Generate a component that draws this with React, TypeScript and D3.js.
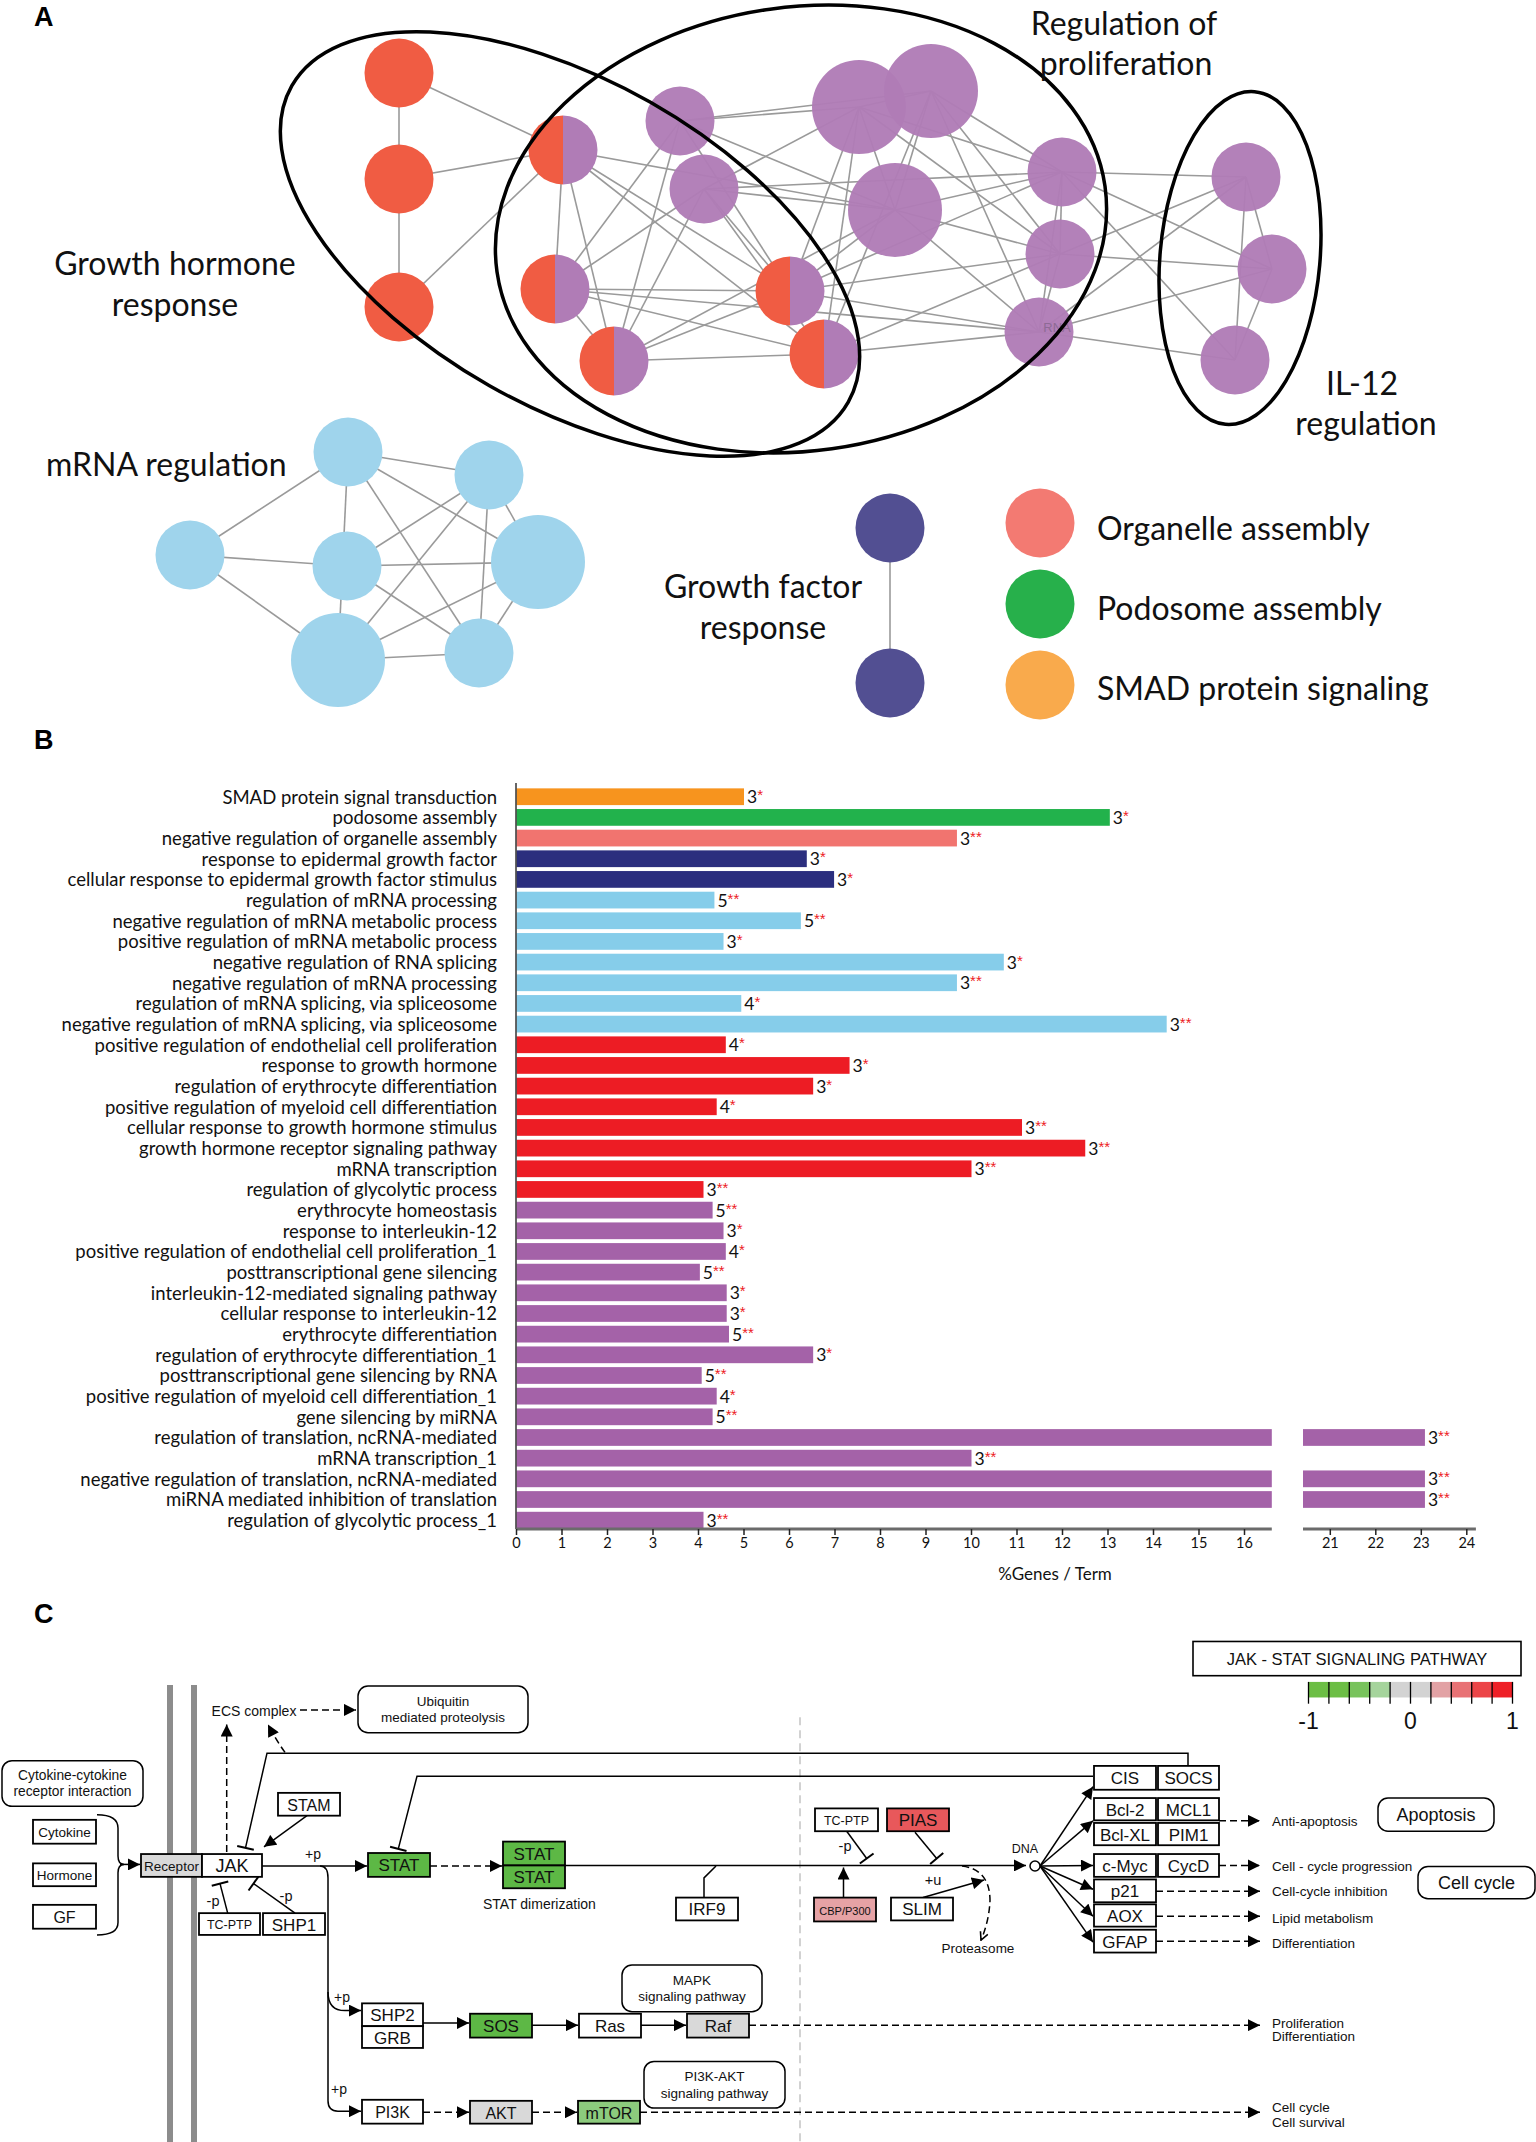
import React from 'react';
import * as d3 from 'd3';

// ---------------- Panel B data ----------------
const goTerms = [
  'SMAD protein signal transduction',
  'podosome assembly',
  'negative regulation of organelle assembly',
  'response to epidermal growth factor',
  'cellular response to epidermal growth factor stimulus',
  'regulation of mRNA processing',
  'negative regulation of mRNA metabolic process',
  'positive regulation of mRNA metabolic process',
  'negative regulation of RNA splicing',
  'negative regulation of mRNA processing',
  'regulation of mRNA splicing, via spliceosome',
  'negative regulation of mRNA splicing, via spliceosome',
  'positive regulation of endothelial cell proliferation',
  'response to growth hormone',
  'regulation of erythrocyte differentiation',
  'positive regulation of myeloid cell differentiation',
  'cellular response to growth hormone stimulus',
  'growth hormone receptor signaling pathway',
  'mRNA transcription',
  'regulation of glycolytic process',
  'erythrocyte homeostasis',
  'response to interleukin-12',
  'positive regulation of endothelial cell proliferation_1',
  'posttranscriptional gene silencing',
  'interleukin-12-mediated signaling pathway',
  'cellular response to interleukin-12',
  'erythrocyte differentiation',
  'regulation of erythrocyte differentiation_1',
  'posttranscriptional gene silencing by RNA',
  'positive regulation of myeloid cell differentiation_1',
  'gene silencing by miRNA',
  'regulation of translation, ncRNA-mediated',
  'mRNA transcription_1',
  'negative regulation of translation, ncRNA-mediated',
  'miRNA mediated inhibition of translation',
  'regulation of glycolytic process_1',
];
const goPercent = [
  5.0, 13.04, 9.68, 6.38, 6.98, 4.35, 6.25, 4.55, 10.71, 9.68, 4.94, 14.29,
  4.6, 7.32, 6.52, 4.4, 11.11, 12.5, 10.0, 4.11, 4.31, 4.55, 4.6, 4.03, 4.62,
  4.62, 4.67, 6.52, 4.07, 4.4, 4.31, 23.08, 10.0, 23.08, 23.08, 4.11,
];
const goGenes = [
  3, 3, 3, 3, 3, 5, 5, 3, 3, 3, 4, 3, 4, 3, 3, 4, 3, 3, 3, 3, 5, 3, 4, 5, 3, 3,
  5, 3, 5, 4, 5, 3, 3, 3, 3, 3,
];
const goStars = [
  '*', '*', '**', '*', '*', '**', '**', '*', '*', '**', '*', '**', '*', '*', '*',
  '*', '**', '**', '**', '**', '**', '*', '*', '**', '*', '*', '**', '*', '**',
  '*', '**', '**', '**', '**', '**', '**',
];
const goCluster = [
  'smad', 'podosome', 'organelle', 'egf', 'egf',
  'mrna', 'mrna', 'mrna', 'mrna', 'mrna', 'mrna', 'mrna',
  'gh', 'gh', 'gh', 'gh', 'gh', 'gh', 'gh', 'gh',
  'prolif', 'prolif', 'prolif', 'prolif', 'prolif', 'prolif', 'prolif', 'prolif',
  'prolif', 'prolif', 'prolif', 'prolif', 'prolif', 'prolif', 'prolif', 'prolif',
];
const barColors: Record<string, string> = {
  smad: '#F7941E',
  podosome: '#22B24C',
  organelle: '#F1746F',
  egf: '#2B2E7E',
  mrna: '#86CDEA',
  gh: '#ED1C24',
  prolif: '#A462A8',
};
const ticksLeft = d3.range(0, 17);
const ticksRight = [21, 22, 23, 24];

// ---------------- Panel A network ----------------
const ghNodes = [
  { id: 'g1', x: 399, y: 73 },
  { id: 'g2', x: 399, y: 179 },
  { id: 'g3', x: 399, y: 307 },
];
const mixNodes = [
  { id: 'h1', x: 563, y: 150 },
  { id: 'h2', x: 555, y: 289 },
  { id: 'h3', x: 614, y: 361 },
  { id: 'h4', x: 790, y: 291 },
  { id: 'h5', x: 824, y: 354 },
];
const prolifNodes = [
  { id: 'p1', x: 680, y: 121, big: false },
  { id: 'p2', x: 704, y: 189, big: false },
  { id: 'p3', x: 859, y: 107, big: true },
  { id: 'p4', x: 931, y: 91, big: true },
  { id: 'p5', x: 895, y: 210, big: true },
  { id: 'p6', x: 1062, y: 172, big: false },
  { id: 'p7', x: 1060, y: 254, big: false },
  { id: 'p8', x: 1039, y: 332, big: false },
  { id: 'i1', x: 1246, y: 177, big: false },
  { id: 'i2', x: 1272, y: 269, big: false },
  { id: 'i3', x: 1235, y: 360, big: false },
];
const mrnaNodes = [
  { id: 'm1', x: 348, y: 452, big: false },
  { id: 'm2', x: 489, y: 475, big: false },
  { id: 'm3', x: 190, y: 555, big: false },
  { id: 'm4', x: 347, y: 566, big: false },
  { id: 'm5', x: 538, y: 562, big: true },
  { id: 'm6', x: 338, y: 660, big: true },
  { id: 'm7', x: 479, y: 653, big: false },
];
const gfNodes = [
  { id: 'n1', x: 890, y: 528 },
  { id: 'n2', x: 890, y: 683 },
];
const netEdges: [string, string][] = [
  ['g1', 'g2'], ['g2', 'g3'], ['g1', 'h1'], ['g2', 'h1'], ['g3', 'h1'],
  ['h1', 'h2'], ['h1', 'h3'], ['h1', 'h4'], ['h1', 'h5'], ['h1', 'p5'],
  ['h2', 'h3'], ['h2', 'h4'], ['h2', 'h5'], ['h2', 'p1'], ['h2', 'p2'], ['h2', 'p8'],
  ['h3', 'p1'], ['h3', 'p2'], ['h3', 'h4'], ['h3', 'h5'], ['h3', 'p5'],
  ['p1', 'p3'], ['p1', 'p4'], ['p1', 'p5'], ['p1', 'h4'],
  ['p2', 'p3'], ['p2', 'p5'], ['p2', 'h4'], ['p2', 'h5'], ['p2', 'p6'],
  ['p3', 'p4'], ['p3', 'p5'], ['p3', 'p6'], ['p3', 'h4'], ['p3', 'h5'], ['p3', 'p7'],
  ['p4', 'p5'], ['p4', 'p6'], ['p4', 'p7'], ['p4', 'p8'], ['p4', 'h5'],
  ['p5', 'p6'], ['p5', 'p7'], ['p5', 'p8'], ['p5', 'h4'],
  ['p6', 'p7'], ['p6', 'p8'], ['p6', 'h4'],
  ['p7', 'p8'], ['p7', 'h4'], ['p7', 'h5'],
  ['p8', 'h4'], ['p8', 'h5'],
  ['p6', 'i1'], ['p6', 'i2'], ['p6', 'i3'], ['p7', 'i1'], ['p7', 'i2'],
  ['p8', 'i1'], ['p8', 'i2'], ['p8', 'i3'],
  ['i1', 'i2'], ['i1', 'i3'], ['i2', 'i3'],
  ['m1', 'm2'], ['m1', 'm3'], ['m1', 'm6'], ['m1', 'm5'], ['m1', 'm7'],
  ['m2', 'm4'], ['m2', 'm6'], ['m2', 'm5'], ['m2', 'm7'],
  ['m3', 'm4'], ['m3', 'm6'], ['m4', 'm5'], ['m4', 'm7'],
  ['m5', 'm6'], ['m5', 'm7'], ['m6', 'm7'],
  ['n1', 'n2'],
];
const legendLabels = ['Organelle assembly', 'Podosome assembly', 'SMAD protein signaling'];
const legendColors = ['#F37A72', '#27B04B', '#F9AA4C'];

// ---------------- Panel C pathway ----------------
const GREEN = '#5DB845';
const GRAY = '#D9D9D9';
const pathwayBoxes = [
  { label: 'Cytokine', x: 33, y: 1812, w: 63, h: 23, fill: '#fff', fs: 13.5 },
  { label: 'Hormone', x: 33, y: 1854, w: 63, h: 22, fill: '#fff', fs: 13.5 },
  { label: 'GF', x: 33, y: 1894, w: 63, h: 23, fill: '#fff', fs: 16 },
  { label: 'Receptor', x: 141, y: 1845, w: 61, h: 22, fill: GRAY, fs: 13.5 },
  { label: 'JAK', x: 202, y: 1845, w: 60, h: 22, fill: '#fff', fs: 18 },
  { label: 'STAM', x: 278, y: 1786, w: 62, h: 22, fill: '#fff', fs: 16 },
  { label: 'TC-PTP', x: 199, y: 1902, w: 61, h: 21, fill: '#fff', fs: 12.5 },
  { label: 'SHP1', x: 263, y: 1902, w: 62, h: 21, fill: '#fff', fs: 17 },
  { label: 'STAT', x: 368, y: 1844, w: 62, h: 23, fill: GREEN, fs: 17 },
  { label: 'STAT', x: 503, y: 1833, w: 62, h: 23, fill: GREEN, fs: 17 },
  { label: 'STAT', x: 503, y: 1856, w: 62, h: 22, fill: GREEN, fs: 17 },
  { label: 'IRF9', x: 676, y: 1887, w: 62, h: 22, fill: '#fff', fs: 17 },
  { label: 'TC-PTP', x: 815, y: 1801, w: 63, h: 22, fill: '#fff', fs: 12.5 },
  { label: 'PIAS', x: 887, y: 1801, w: 62, h: 22, fill: '#E8585B', fs: 17 },
  { label: 'CBP/P300', x: 814, y: 1887, w: 62, h: 23, fill: '#E6A2A5', fs: 11 },
  { label: 'SLIM', x: 891, y: 1887, w: 62, h: 22, fill: '#fff', fs: 17 },
  { label: 'SHP2', x: 362, y: 1989, w: 61, h: 22, fill: '#fff', fs: 17 },
  { label: 'GRB', x: 362, y: 2011, w: 61, h: 21, fill: '#fff', fs: 17 },
  { label: 'SOS', x: 470, y: 1999, w: 62, h: 23, fill: GREEN, fs: 17 },
  { label: 'Ras', x: 579, y: 1999, w: 62, h: 23, fill: '#fff', fs: 17 },
  { label: 'Raf', x: 687, y: 1999, w: 62, h: 23, fill: GRAY, fs: 17 },
  { label: 'PI3K', x: 362, y: 2082, w: 61, h: 23, fill: '#fff', fs: 16 },
  { label: 'AKT', x: 470, y: 2083, w: 62, h: 22, fill: GRAY, fs: 16 },
  { label: 'mTOR', x: 578, y: 2083, w: 62, h: 22, fill: '#8CCB7D', fs: 16 },
  { label: 'CIS', x: 1094, y: 1760, w: 62, h: 23, fill: '#fff', fs: 17 },
  { label: 'SOCS', x: 1158, y: 1760, w: 61, h: 23, fill: '#fff', fs: 17 },
  { label: 'Bcl-2', x: 1094, y: 1791, w: 62, h: 21.5, fill: '#fff', fs: 17 },
  { label: 'MCL1', x: 1158, y: 1791, w: 61, h: 21.5, fill: '#fff', fs: 17 },
  { label: 'Bcl-XL', x: 1094, y: 1815, w: 62, h: 21.5, fill: '#fff', fs: 17 },
  { label: 'PIM1', x: 1158, y: 1815, w: 61, h: 21.5, fill: '#fff', fs: 17 },
  { label: 'c-Myc', x: 1094, y: 1845, w: 62, h: 22, fill: '#fff', fs: 17 },
  { label: 'CycD', x: 1158, y: 1845, w: 61, h: 22, fill: '#fff', fs: 17 },
  { label: 'p21', x: 1094, y: 1869.5, w: 62, h: 22, fill: '#fff', fs: 17 },
  { label: 'AOX', x: 1094, y: 1893.5, w: 62, h: 21.5, fill: '#fff', fs: 17 },
  { label: 'GFAP', x: 1094, y: 1918, w: 62, h: 22, fill: '#fff', fs: 17 },
];
const roundBoxes = [
  { lines: ['Cytokine-cytokine', 'receptor interaction'], x: 2, y: 1755, w: 141, h: 44, fs: 13.8 },
  { lines: ['Ubiquitin', 'mediated proteolysis'], x: 358, y: 1683, w: 170, h: 45, fs: 13.5 },
  { lines: ['MAPK', 'signaling pathway'], x: 622, y: 1952, w: 140, h: 45, fs: 13.5 },
  { lines: ['PI3K-AKT', 'signaling pathway'], x: 644, y: 2045, w: 141, h: 45, fs: 13.5 },
  { lines: ['Apoptosis'], x: 1378, y: 1791, w: 116, h: 32, fs: 18 },
  { lines: ['Cell cycle'], x: 1418, y: 1857, w: 117, h: 31, fs: 18 },
];
const outcomeTexts = [
  { t: 'Anti-apoptosis', y: 1814 },
  { t: 'Cell - cycle progression', y: 1857 },
  { t: 'Cell-cycle inhibition', y: 1881 },
  { t: 'Lipid metabolism', y: 1907 },
  { t: 'Differentiation', y: 1931 },
  { t: 'Proliferation', y: 2008 },
  { t: 'Differentiation', y: 2021 },
  { t: 'Cell cycle', y: 2089 },
  { t: 'Cell survival', y: 2104 },
];
const scaleColors = [
  '#6CBE45', '#6CBE45', '#78C35C', '#A5D49C', '#D3D3D3',
  '#D3D3D3', '#E2A2A5', '#E87275', '#EC4548', '#EE2027',
];
const scaleTicks = [-1, 0, 1];

const LATO = 'Lato, "Open Sans", sans-serif';
const ARIAL = '"Liberation Sans", Arial, sans-serif';

function PanelA() {
  const all: Record<string, { x: number; y: number }> = {};
  [...ghNodes, ...mixNodes, ...prolifNodes, ...mrnaNodes, ...gfNodes].forEach((n) => (all[n.id] = n));
  const rSmall = 34.5;
  const rBig = 47;
  const arc = d3.arc<any>();
  const rightHalf = arc({ innerRadius: 0, outerRadius: rSmall, startAngle: 0, endAngle: Math.PI }) as string;
  const leftHalf = arc({ innerRadius: 0, outerRadius: rSmall, startAngle: Math.PI, endAngle: 2 * Math.PI }) as string;
  const txt = { fontFamily: LATO, fontSize: 32, fill: '#111' } as const;
  return (
    <g>
      <text x={34} y={26} fontFamily={ARIAL} fontWeight="bold" fontSize={27}>A</text>
      <g stroke="#9a9a9a" strokeWidth={1.6}>
        {netEdges.map(([a, b], i) => (
          <line key={i} x1={all[a].x} y1={all[a].y} x2={all[b].x} y2={all[b].y} />
        ))}
      </g>
      {ghNodes.map((n) => (
        <circle key={n.id} cx={n.x} cy={n.y} r={rSmall} fill="#F05C43" />
      ))}
      {mixNodes.map((n) => (
        <g key={n.id} transform={`translate(${n.x},${n.y})`}>
          <path d={leftHalf} fill="#F05C43" />
          <path d={rightHalf} fill="#B07CB6" />
        </g>
      ))}
      {prolifNodes.map((n) => (
        <circle key={n.id} cx={n.x} cy={n.y} r={n.big ? rBig : rSmall} fill="#B07CB6" fillOpacity={0.96} />
      ))}
      <text x={1057} y={327} textAnchor="middle" dominantBaseline="central" fontFamily={ARIAL} fontSize={13} fill="#8e6a95">RNA</text>
      {mrnaNodes.map((n) => (
        <circle key={n.id} cx={n.x} cy={n.y} r={n.big ? rBig : rSmall} fill="#9FD4EC" />
      ))}
      {gfNodes.map((n) => (
        <circle key={n.id} cx={n.x} cy={n.y} r={rSmall} fill="#524F92" />
      ))}
      <g fill="none" stroke="#000" strokeWidth={3.5}>
        <ellipse cx={570} cy={244} rx={320} ry={163} transform="rotate(29.6 570 244)" />
        <ellipse cx={801} cy={229} rx={307} ry={222} transform="rotate(-8 801 229)" />
        <ellipse cx={1240} cy={258} rx={80} ry={167} transform="rotate(5 1240 258)" />
      </g>
      <g {...txt} textAnchor="middle" dominantBaseline="central">
        <text x={175} y={262}>Growth hormone</text>
        <text x={175} y={303}>response</text>
        <text x={1124} y={22}>Regulation of</text>
        <text x={1126} y={62}>proliferation</text>
        <text x={1362} y={382}>IL-12</text>
        <text x={1366} y={422}>regulation</text>
        <text x={763} y={585}>Growth factor</text>
        <text x={763} y={626}>response</text>
      </g>
      <text {...txt} x={46} y={463} dominantBaseline="central">mRNA regulation</text>
      {legendLabels.map((l, i) => (
        <g key={l}>
          <circle cx={1040} cy={523 + i * 81} r={rSmall} fill={legendColors[i]} />
          <text {...txt} x={1097} y={527 + i * 80} dominantBaseline="central">{l}</text>
        </g>
      ))}
    </g>
  );
}

function PanelB() {
  const y = d3.scaleBand<string>().domain(goTerms).range([786.4, 1530.5]).paddingInner(0.19).paddingOuter(0.095);
  const xL = d3.scaleLinear().domain([0, 16.6]).range([516.5, 1271.8]);
  const xR = d3.scaleLinear().domain([20.4, 24.2]).range([1303, 1475.9]);
  const axisY = 1529;
  const bw = y.bandwidth();
  return (
    <g>
      <text x={34} y={749} fontFamily={ARIAL} fontWeight="bold" fontSize={27}>B</text>
      {goTerms.map((t, i) => {
        const v = goPercent[i];
        const yy = y(t)!;
        const c = barColors[goCluster[i]];
        const broken = v > 16.6;
        const endX = broken ? xR(v) : xL(v);
        return (
          <g key={t}>
            <text x={497} y={yy + bw / 2} dominantBaseline="central" textAnchor="end" fontFamily={LATO} fontSize={18.5} fill="#111">{t}</text>
            <rect x={xL(0)} y={yy} width={(broken ? xL(16.6) : xL(v)) - xL(0)} height={bw} fill={c} />
            {broken && <rect x={xR(20.4)} y={yy} width={xR(v) - xR(20.4)} height={bw} fill={c} />}
            <text x={endX + 3} y={yy + bw / 2 + 6.5} fontFamily={LATO} fontSize={17.5} fill="#111">
              {goGenes[i]}
              <tspan dy={-3} fontFamily={ARIAL} fontSize={15} fill="#ED1C24">{goStars[i]}</tspan>
            </text>
          </g>
        );
      })}
      <line x1={516} x2={516} y1={783} y2={axisY} stroke="#333" strokeWidth={1.5} />
      <g stroke="#6b6b6b" strokeWidth={3}>
        <line x1={xL(0)} x2={xL(16.6)} y1={axisY} y2={axisY} />
        <line x1={xR(20.4)} x2={xR(24.2)} y1={axisY} y2={axisY} />
      </g>
      {ticksLeft.map((t) => (
        <g key={'l' + t}>
          <line x1={xL(t)} x2={xL(t)} y1={axisY} y2={axisY + 6} stroke="#222" strokeWidth={1.5} />
          <text x={xL(t)} y={axisY + 19} textAnchor="middle" fontFamily={LATO} fontSize={14.5} fill="#111">{t}</text>
        </g>
      ))}
      {ticksRight.map((t) => (
        <g key={'r' + t}>
          <line x1={xR(t)} x2={xR(t)} y1={axisY} y2={axisY + 6} stroke="#222" strokeWidth={1.5} />
          <text x={xR(t)} y={axisY + 19} textAnchor="middle" fontFamily={LATO} fontSize={14.5} fill="#111">{t}</text>
        </g>
      ))}
      <text x={1055} y={1573} textAnchor="middle" dominantBaseline="central" fontFamily={LATO} fontSize={17} fill="#111">%Genes / Term</text>
    </g>
  );
}

function tBar(x1: number, y1: number, x2: number, y2: number, len = 17) {
  const dx = x2 - x1;
  const dy = y2 - y1;
  const L = Math.hypot(dx, dy);
  const px = (-dy / L) * (len / 2);
  const py = (dx / L) * (len / 2);
  return { x1: x2 - px, y1: y2 - py, x2: x2 + px, y2: y2 + py };
}

// the pathway layout was measured on a slightly squashed grid; this maps it back
const yC = d3.scaleLinear().domain([1600, 2142]).range([1600, 2162]);
const kC = 562 / 542;

function PanelC() {
  const solidArrows = [
    [120, 1855, 140, 1855],
    [307, 1808, 264, 1838],
    [262, 1856.5, 367, 1856.5],
    [423, 2008, 469, 2008],
    [532, 2010, 578, 2010],
    [641, 2010, 686, 2010],
    [565, 1856, 1026, 1856],
    [843.5, 1887, 843.5, 1858],
    [923, 1887, 984, 1870],
    [1040, 1856.5, 1093, 1780],
    [1040, 1856.5, 1093, 1813],
    [1040, 1856.5, 1093, 1856],
    [1040, 1856.5, 1093, 1879],
    [1040, 1856.5, 1093, 1905],
    [1040, 1856.5, 1093, 1930],
  ];
  const dashedArrows = [
    [300, 1706, 356, 1706],
    [226.7, 1843, 226.7, 1720],
    [430, 1856.5, 502, 1856.5],
    [423, 2094, 469, 2094],
    [532, 2094, 577, 2094],
    [749, 2010, 1260, 2010],
    [640, 2094, 1260, 2094],
    [1219, 1813, 1260, 1813],
    [1219, 1856, 1260, 1856],
    [1156, 1881, 1260, 1881],
    [1156, 1905, 1260, 1905],
    [1156, 1929, 1260, 1929],
  ];
  const inhibitors = [
    [[1188, 1760], [1188, 1747.7], [267, 1747.7], [245.5, 1839]],
    [[1093, 1770], [417, 1770], [398.3, 1840]],
    [[227.7, 1902], [220, 1873.5]],
    [[295, 1902], [253.5, 1873.5]],
    [[846.7, 1823], [866.7, 1849.3]],
    [[915, 1824], [936.7, 1849.3]],
  ];
  const line = d3.line<number[]>().x((p) => p[0]).y((p) => yC(p[1]));
  const P = (pts: number[][]) => line(pts)!;
  return (
    <g fontFamily={ARIAL}>
      <defs>
        <marker id="tri" viewBox="0 0 10 10" refX={10} refY={5} markerWidth={13} markerHeight={12} markerUnits="userSpaceOnUse" orient="auto">
          <path d="M0,0L10,5L0,10z" fill="#000" />
        </marker>
        <marker id="vee" viewBox="0 0 10 10" refX={9} refY={5} markerWidth={10} markerHeight={10} markerUnits="userSpaceOnUse" orient="auto">
          <path d="M1,1L9,5L1,9" fill="none" stroke="#000" strokeWidth={1.6} />
        </marker>
      </defs>
      <text x={34} y={1623} fontWeight="bold" fontSize={27}>C</text>
      <line x1={170} x2={170} y1={yC(1682)} y2={2142} stroke="#8c8c8c" strokeWidth={6} />
      <line x1={194} x2={194} y1={yC(1682)} y2={2142} stroke="#8c8c8c" strokeWidth={6} />
      <line x1={800} x2={800} y1={yC(1713)} y2={2142} stroke="#c4c4c4" strokeWidth={1.5} strokeDasharray="8 5" />

      <g stroke="#000" strokeWidth={1.5} fill="none">
        {inhibitors.map((pts, i) => {
          const n = pts.length;
          const tb = tBar(pts[n - 2][0], yC(pts[n - 2][1]), pts[n - 1][0], yC(pts[n - 1][1]));
          return (
            <g key={i}>
              <path d={P(pts)} />
              <line {...tb} strokeWidth={2} />
            </g>
          );
        })}
        <path d={P([[704, 1887], [704, 1868], [716, 1856.5]])} />
        <path d={`M97,${yC(1807)} Q118,${yC(1807)} 118,${yC(1820)} L118,${yC(1847)} Q118,${yC(1855)} 124,${yC(1855)} Q118,${yC(1855)} 118,${yC(1863)} L118,${yC(1911)} Q118,${yC(1923)} 97,${yC(1923)}`} />
        {solidArrows.map((a, i) => (
          <line key={i} x1={a[0]} y1={yC(a[1])} x2={a[2]} y2={yC(a[3])} markerEnd="url(#tri)" />
        ))}
        <path d={`M320,${yC(1856.5)} Q328,${yC(1856.5)} 328,${yC(1868)} L328,${yC(2083)} Q328,${yC(2093)} 338,${yC(2093)} L361,${yC(2093)}`} markerEnd="url(#tri)" />
        <path d={`M328,${yC(1978)} Q328,${yC(1996)} 345,${yC(1996)} L361,${yC(1996)}`} markerEnd="url(#tri)" />
        <g strokeDasharray="7 4">
          {dashedArrows.map((a, i) => (
            <line key={i} x1={a[0]} y1={yC(a[1])} x2={a[2]} y2={yC(a[3])} markerEnd="url(#tri)" />
          ))}
          <path d={`M285,${yC(1747)} Q276,${yC(1735)} 268,${yC(1720)}`} markerEnd="url(#tri)" />
          <path d={`M962,${yC(1856.5)} Q990,${yC(1860)} 990,${yC(1890)} Q989,${yC(1910)} 981,${yC(1928)}`} markerEnd="url(#vee)" />
        </g>
      </g>
      <circle cx={1035} cy={yC(1856.5)} r={5} fill="#fff" stroke="#000" strokeWidth={1.5} />

      {pathwayBoxes.map((b, i) => (
        <g key={i}>
          <rect x={b.x} y={yC(b.y)} width={b.w} height={b.h * kC} fill={b.fill} stroke="#000" strokeWidth={1.8} />
          <text x={b.x + b.w / 2} y={yC(b.y + b.h / 2) + 1} textAnchor="middle" dominantBaseline="central" fontSize={b.fs} fill="#111">{b.label}</text>
        </g>
      ))}
      {roundBoxes.map((b, i) => (
        <g key={i}>
          <rect x={b.x} y={yC(b.y)} width={b.w} height={b.h * kC} rx={10} fill="#fff" stroke="#000" strokeWidth={1.5} />
          {b.lines.map((l, j) => (
            <text key={j} x={b.x + b.w / 2} y={yC(b.y + b.h / 2 + (j - (b.lines.length - 1) / 2) * 16)} textAnchor="middle" dominantBaseline="central" fontSize={b.fs} fill="#111">{l}</text>
          ))}
        </g>
      ))}

      <g fontSize={14} fill="#111" dominantBaseline="central">
        <text x={254} y={yC(1707)} textAnchor="middle">ECS complex</text>
        <text x={313} y={yC(1845)} textAnchor="middle">+p</text>
        <text x={213} y={yC(1890)} textAnchor="middle" fontSize={14.5}>-p</text>
        <text x={286} y={yC(1885)} textAnchor="middle" fontSize={14.5}>-p</text>
        <text x={483} y={yC(1893)}>STAT dimerization</text>
        <text x={342} y={yC(1983)} textAnchor="middle">+p</text>
        <text x={339} y={yC(2072)} textAnchor="middle">+p</text>
        <text x={1025} y={yC(1840)} textAnchor="middle" fontSize={12.5}>DNA</text>
        <text x={845} y={yC(1837)} textAnchor="middle" fontSize={14.5}>-p</text>
        <text x={933} y={yC(1870)} textAnchor="middle" fontSize={14.5}>+u</text>
        <text x={978} y={yC(1936)} textAnchor="middle" fontSize={13.5}>Proteasome</text>
        {outcomeTexts.map((o, i) => (
          <text key={i} x={1272} y={yC(o.y)} fontSize={13.5}>{o.t}</text>
        ))}
      </g>

      <rect x={1193} y={yC(1640)} width={328} height={33 * kC} fill="#fff" stroke="#000" strokeWidth={1.6} />
      <text x={1357} y={yC(1657)} textAnchor="middle" dominantBaseline="central" fontSize={16.5} fill="#111">JAK - STAT SIGNALING PATHWAY</text>
      {scaleColors.map((c, i) => (
        <rect key={i} x={1308.5 + i * 20.4} y={yC(1679)} width={20.4} height={15 * kC} fill={c} />
      ))}
      {d3.range(0, 11).map((i) => (
        <line key={i} x1={1308.5 + i * 20.4} x2={1308.5 + i * 20.4} y1={yC(1679)} y2={yC(1700)} stroke="#000" strokeWidth={1.3} />
      ))}
      {scaleTicks.map((t) => (
        <text key={t} x={1308.5 + (t + 1) * 102} y={yC(1717)} textAnchor="middle" dominantBaseline="central" fontSize={23} fill="#111">{t}</text>
      ))}
    </g>
  );
}

export default function App() {
  return (
    <svg width={1536} height={2142} viewBox="0 0 1536 2142" style={{ position: 'absolute', left: 0, top: 0, background: '#fff' }}>
      <rect width={1536} height={2142} fill="#fff" />
      <PanelA />
      <PanelB />
      <PanelC />
    </svg>
  );
}
